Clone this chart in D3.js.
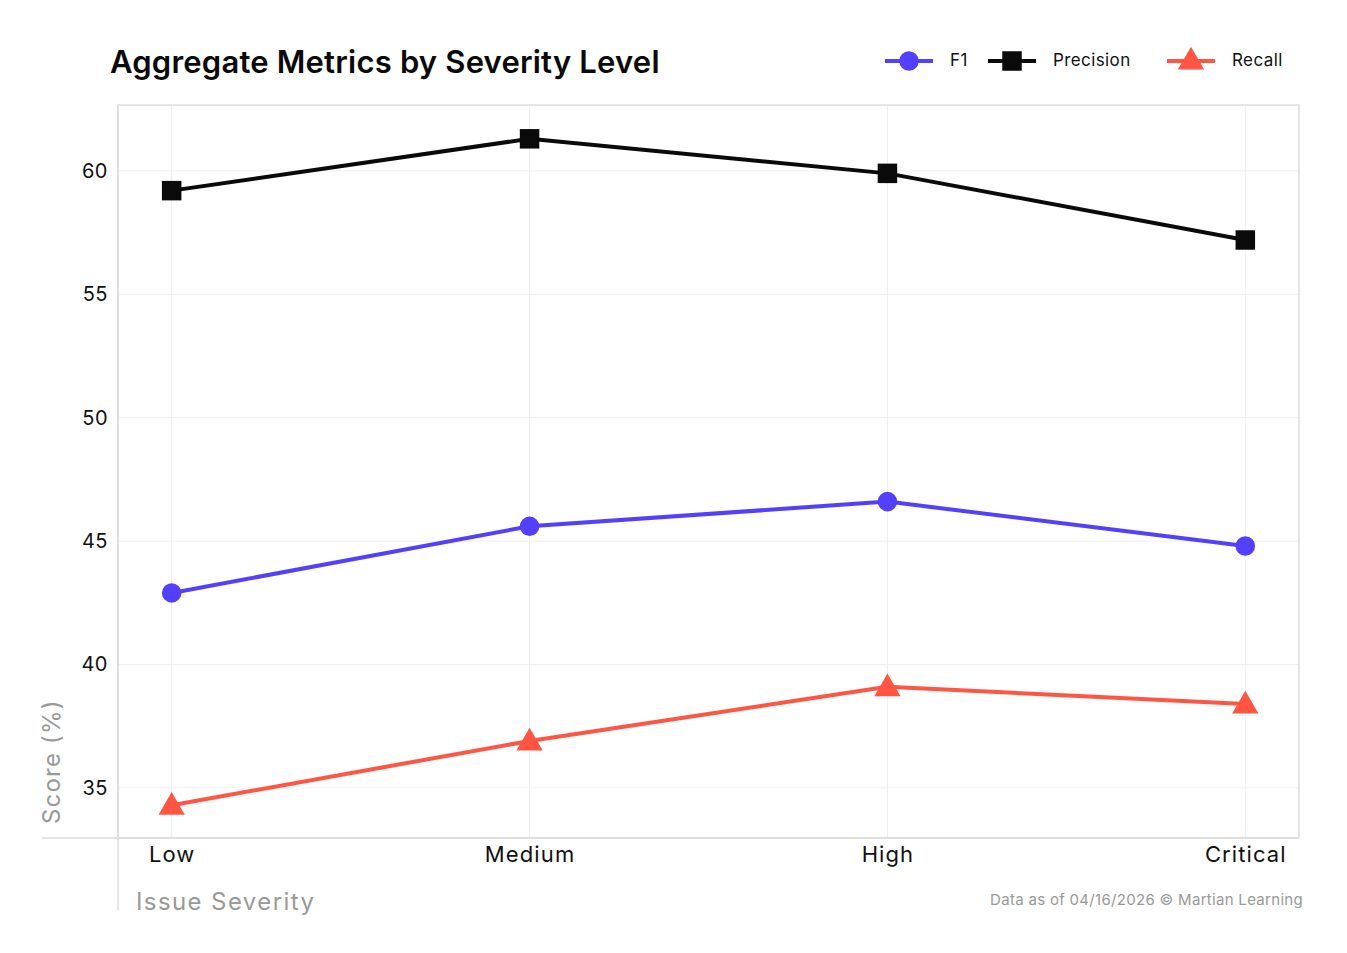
<!DOCTYPE html>
<html>
<head>
<meta charset="utf-8">
<script src="https://cdn.jsdelivr.net/npm/d3@7"></script>
<style>
  body { margin: 0; background: #fff; }
  svg { font-family: Inter, "Open Sans", sans-serif; }
</style>
</head>
<body>
<svg width="1347" height="953"></svg>
<script>
// chart data
var severities = ['Low', 'Medium', 'High', 'Critical'];
var f1Values = [42.9, 45.6, 46.6, 44.8];
var precisionValues = [59.2, 61.3, 59.9, 57.2];
var recallValues = [34.3, 36.9, 39.1, 38.4];
var yTicks = [35, 40, 45, 50, 55, 60];

var series = [
    { name: 'F1', values: f1Values, color: '#5340ff', shape: d3.symbolCircle, size: 300 },
    { name: 'Precision', values: precisionValues, color: '#0a0a0a', shape: d3.symbolSquare, size: 380 },
    { name: 'Recall', values: recallValues, color: '#ff5542', shape: d3.symbolTriangle, size: 300 }
];

var svg = d3.select('svg');
var plotL = 118, plotR = 1299, plotT = 105, plotB = 838;

var x = d3.scalePoint().domain(severities).range([plotL, plotR]).padding(0.15);
var y = d3.scaleLinear().domain([32.97, 62.67]).range([plotB, plotT]);

// grid
svg.append('g').selectAll('line').data(yTicks).enter().append('line')
    .attr('x1', plotL).attr('x2', plotR)
    .attr('y1', function(d) { return y(d); }).attr('y2', function(d) { return y(d); })
    .style('stroke', '#efefef').style('stroke-width', 1);
svg.append('g').selectAll('line').data(severities).enter().append('line')
    .attr('y1', plotT).attr('y2', plotB)
    .attr('x1', function(d) { return x(d); }).attr('x2', function(d) { return x(d); })
    .style('stroke', '#efefef').style('stroke-width', 1);

// frame
svg.append('rect')
    .attr('x', plotL).attr('y', plotT)
    .attr('width', plotR - plotL).attr('height', plotB - plotT)
    .style('fill', 'none').style('stroke', '#dddddd').style('stroke-width', 1.5);

// axis lines, extended past the frame
svg.append('line').attr('x1', plotL).attr('x2', plotL).attr('y1', plotT).attr('y2', 910)
    .style('stroke', '#dddddd').style('stroke-width', 1.5);
svg.append('line').attr('x1', 42).attr('x2', plotR).attr('y1', plotB).attr('y2', plotB)
    .style('stroke', '#dddddd').style('stroke-width', 1.5);

// tick labels
var yAxis = svg.append('g').attr('transform', 'translate(' + plotL + ',0)')
    .call(d3.axisLeft(y).tickValues(yTicks).tickSize(0).tickPadding(10));
yAxis.select('.domain').remove();
yAxis.selectAll('text').style('font-size', '20px').style('fill', '#111')
    .style('letter-spacing', '0.5px')
    .style('font-family', 'Inter, "Open Sans", sans-serif');

var xAxis = svg.append('g').attr('transform', 'translate(0,' + plotB + ')')
    .call(d3.axisBottom(x).tickSize(0).tickPadding(8));
xAxis.select('.domain').remove();
xAxis.selectAll('text').style('font-size', '22px').style('fill', '#111')
    .style('letter-spacing', '1.1px')
    .style('font-family', 'Inter, "Open Sans", sans-serif');

// axis titles
svg.append('text').attr('x', 136).attr('y', 910)
    .style('font-size', '24px').style('fill', '#999').style('letter-spacing', '1.4px')
    .text('Issue Severity');
svg.append('text').attr('transform', 'translate(60,824) rotate(-90)')
    .style('font-size', '24px').style('fill', '#999').style('letter-spacing', '1.2px')
    .text('Score (%)');

// lines and markers
var line = d3.line()
    .x(function(d, i) { return x(severities[i]); })
    .y(function(d) { return y(d); });

series.forEach(function(s) {
    svg.append('path').datum(s.values)
        .attr('d', line)
        .style('fill', 'none').style('stroke', s.color).style('stroke-width', 4);
    svg.append('g').selectAll('path').data(s.values).enter().append('path')
        .attr('d', d3.symbol().type(s.shape).size(s.size))
        .attr('transform', function(d, i) {
            var dy = s.shape === d3.symbolTriangle ? 2 : 0;
            return 'translate(' + x(severities[i]) + ',' + (y(d) + dy) + ')';
        })
        .style('fill', s.color);
});

// title
svg.append('text').attr('x', 110).attr('y', 73)
    .style('font-size', '31px').style('font-weight', 600).style('fill', '#0a0a0a')
    .style('letter-spacing', '0.2px')
    .text('Aggregate Metrics by Severity Level');

// legend
var legendX = [909, 1012, 1191];
series.forEach(function(s, i) {
    var g = svg.append('g').attr('transform', 'translate(' + legendX[i] + ',61)');
    g.append('line').attr('x1', -24).attr('x2', 24)
        .style('stroke', s.color).style('stroke-width', 4);
    g.append('path').attr('d', d3.symbol().type(s.shape).size(s.size))
        .attr('transform', s.shape === d3.symbolTriangle ? 'translate(0,1)' : null)
        .style('fill', s.color);
    g.append('text').attr('x', 41).attr('y', 5)
        .style('font-size', '17px').style('fill', '#111').style('letter-spacing', '0.4px')
        .text(s.name);
});

// footer
svg.append('text').attr('x', 1303).attr('y', 905).attr('text-anchor', 'end')
    .style('font-size', '15px').style('fill', '#999').style('letter-spacing', '0.3px')
    .text('Data as of 04/16/2026 \u00a9 Martian Learning');
</script>
</body>
</html>
